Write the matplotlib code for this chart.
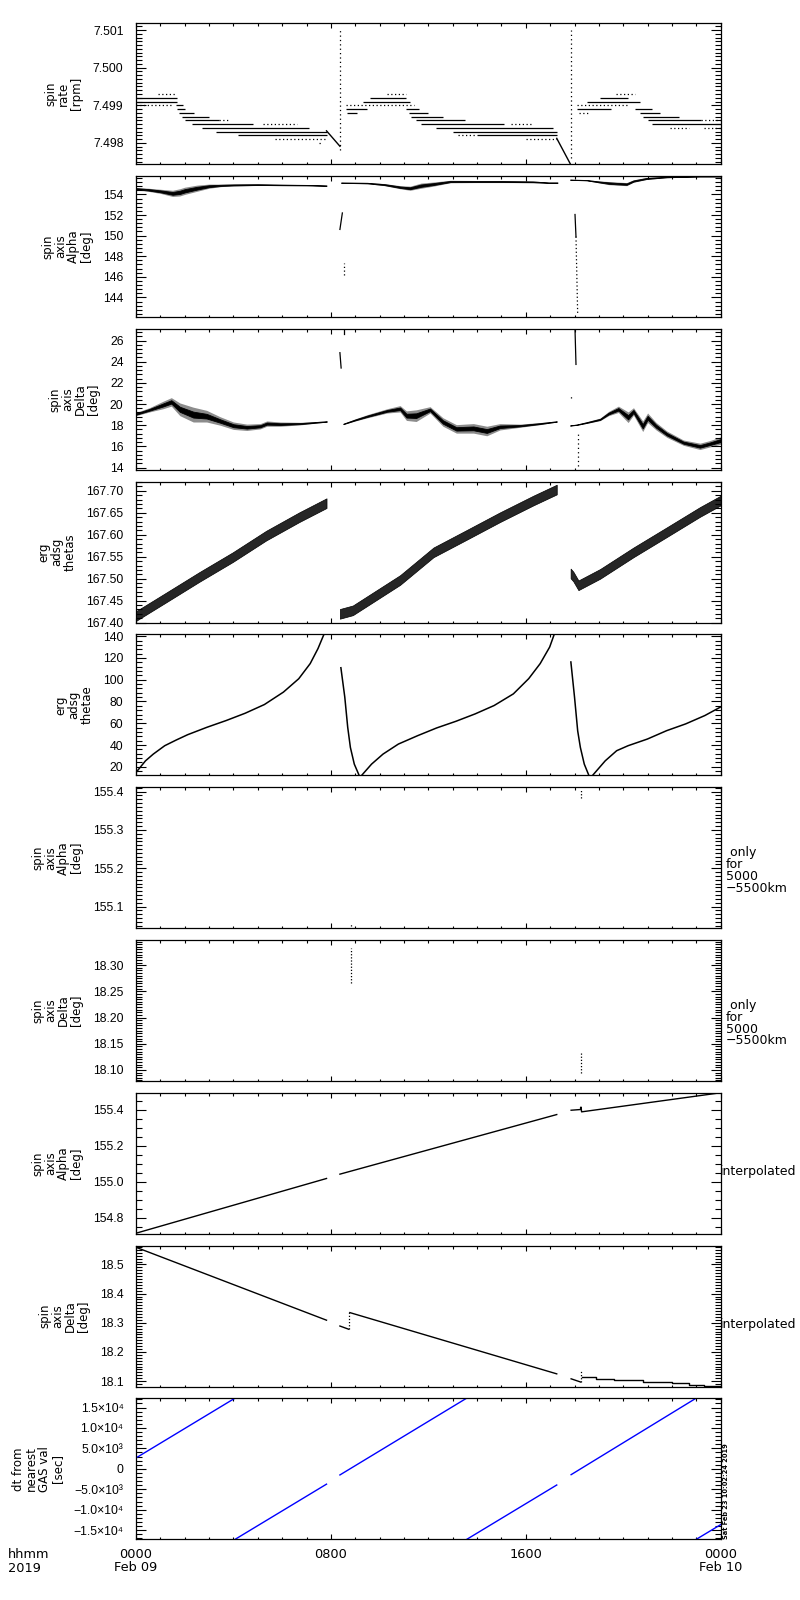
import numpy as np
import matplotlib.pyplot as plt

plt.rcParams['font.family'] = ['DejaVu Sans']
plt.rcParams['font.size'] = 8.5

# time axis: hours since 2019-02-09 00:00
xticks_major = [0, 8, 16, 24]
xtick_labels = ['0000\nFeb 09', '0800', '1600', '0000\nFeb 10']

# ---------- panel 1: spin rate [rpm] (quantised levels)
rate_solid_t0 = [0.0, 0.0, 1.65, 1.7, 1.75, 1.9, 2.0, 2.3, 2.7, 3.3, 4.2,
                 8.6, 8.65, 9.33, 9.6, 11.1, 11.2, 11.3, 11.5, 11.7, 12.3, 13.0, 14.0,
                 18.1, 18.5, 19.05, 20.5, 20.7, 20.8, 21.0, 21.2]
rate_solid_t1 = [1.67, 1.67, 1.93, 2.0, 2.4, 3.0, 3.4, 4.8, 7.1, 7.82, 7.82,
                 9.5, 9.06, 11.25, 11.1, 11.6, 12.0, 12.6, 13.5, 15.1, 17.1, 17.27, 17.27,
                 19.5, 20.7, 20.2, 21.2, 21.5, 22.3, 23.2, 24.0]
rate_solid_v = [7.4992, 7.4991, 7.4990, 7.4989, 7.4988, 7.4987, 7.4986, 7.4985, 7.4984, 7.4983, 7.4982,
                7.4989, 7.4988, 7.4991, 7.4992, 7.4989, 7.4988, 7.4987, 7.4986, 7.4985, 7.4984, 7.4983, 7.4982,
                7.4989, 7.4991, 7.4992, 7.4989, 7.4988, 7.4987, 7.4986, 7.4985]
rate_dot_t0 = [0.9, 0.0, 3.4, 5.2, 5.7, 7.5, 10.29, 8.6, 15.4, 16.0, 13.2, 18.1, 18.2, 19.7, 21.9, 23.2, 23.3]
rate_dot_t1 = [1.6, 1.5, 3.8, 6.6, 7.82, 7.6, 11.1, 11.4, 16.3, 17.27, 13.9, 20.2, 18.6, 20.5, 22.7, 24.0, 24.0]
rate_dot_v = [7.4993, 7.4990, 7.4986, 7.4985, 7.4981, 7.4980, 7.4993, 7.4990, 7.4985, 7.4981, 7.4982,
              7.4990, 7.4988, 7.4993, 7.4984, 7.4986, 7.4984]
rate_ramp1_t = [7.82, 8.37]
rate_ramp1_v = [7.49832, 7.49791]
rate_ramp2_t = [17.27, 17.82]
rate_ramp2_v = [7.49812, 7.49745]
rate_spike_t = [8.37, 17.86]
rate_spike_lo = [7.4978, 7.4976]
rate_spike_hi = [7.5010, 7.5010]

# ---------- panel 2: spin axis Alpha [deg] (centre and half-width of scatter)
alpha_t = [[0, 0.5, 1.0, 1.5, 1.8, 2.0, 2.5, 3.0, 3.5, 4.0, 5.0, 6.0, 7.0, 7.82],
           [8.42, 9.5, 10.2, 10.84, 11.25, 11.7, 12.2, 12.9, 14.0, 15.0, 16.3, 16.93, 17.3],
           [17.82, 18.5, 19.05, 19.4, 19.73, 20.14, 20.42, 20.96, 21.79, 23.15, 24.0]]
alpha_c = [[154.55, 154.45, 154.3, 154.1, 154.2, 154.35, 154.6, 154.8, 154.88, 154.92, 154.95, 154.92, 154.9, 154.85],
           [155.14, 155.1, 154.95, 154.7, 154.6, 154.85, 155.0, 155.25, 155.25, 155.25, 155.22, 155.14, 155.14],
           [155.43, 155.38, 155.2, 155.1, 155.05, 155.0, 155.3, 155.55, 155.69, 155.76, 155.76]]
alpha_w = [[0.12, 0.15, 0.2, 0.3, 0.35, 0.35, 0.3, 0.2, 0.12, 0.1, 0.08, 0.06, 0.05, 0.04],
           [0.04, 0.06, 0.1, 0.15, 0.2, 0.25, 0.2, 0.12, 0.1, 0.1, 0.08, 0.05, 0.05],
           [0.03, 0.04, 0.1, 0.15, 0.15, 0.15, 0.12, 0.1, 0.06, 0.05, 0.05]]
alpha_glitch_t = [[8.47, 8.37], [18.02, 18.06]]
alpha_glitch_v = [[152.2, 150.6], [152.05, 149.9]]
alpha_dots_t = [[8.55, 8.55], [18.06, 18.13]]
alpha_dots_v = [[146.2, 147.3], [149.9, 142.3]]

# ---------- panel 3: spin axis Delta [deg]
delta_t = [[0, 0.55, 1.1, 1.45, 1.8, 2.35, 2.9, 3.45, 4.0, 4.55, 5.1, 5.37, 5.92, 6.74, 7.83],
           [8.51, 9.0, 9.5, 10.3, 10.84, 11.1, 11.5, 12.07, 12.6, 13.15, 13.85, 14.4, 14.94, 15.76, 16.58, 17.27],
           [17.82, 18.1, 18.5, 19.05, 19.4, 19.8, 20.2, 20.42, 20.8, 21.0, 21.35, 21.79, 22.47, 23.15, 23.56, 24.0]]
delta_c = [[19.05, 19.45, 19.9, 20.2, 19.5, 19.0, 18.85, 18.4, 17.95, 17.8, 17.9, 18.15, 18.1, 18.15, 18.35],
           [18.12, 18.5, 18.85, 19.35, 19.55, 18.9, 18.9, 19.45, 18.3, 17.65, 17.7, 17.45, 17.85, 17.95, 18.15, 18.35],
           [17.97, 18.05, 18.25, 18.55, 19.1, 19.5, 18.75, 19.3, 17.9, 18.7, 17.9, 17.15, 16.35, 16.0, 16.25, 16.55]]
delta_w = [[0.15, 0.2, 0.35, 0.4, 0.6, 0.7, 0.55, 0.4, 0.35, 0.3, 0.25, 0.25, 0.2, 0.12, 0.05],
           [0.05, 0.1, 0.15, 0.2, 0.3, 0.45, 0.55, 0.3, 0.4, 0.4, 0.45, 0.45, 0.3, 0.15, 0.1, 0.05],
           [0.03, 0.05, 0.08, 0.12, 0.2, 0.3, 0.5, 0.35, 0.5, 0.45, 0.35, 0.3, 0.25, 0.3, 0.3, 0.35]]
delta_glitch_t = [[8.37, 8.42], [8.55, 8.55], [18.02, 18.06]]
delta_glitch_v = [[24.85, 23.4], [26.6, 26.95], [27.05, 23.74]]
delta_dots_t = [[18.13, 18.13], [17.84, 17.84]]
delta_dots_v = [[14.1, 17.3], [20.6, 20.8]]

# ---------- panel 4: erg adsg thetas
thetas_t = [[0, 1.23, 2.6, 3.97, 5.34, 6.7, 7.82],
            [8.37, 8.9, 10.84, 12.21, 13.58, 14.94, 16.31, 17.27],
            [17.84, 17.95, 18.16, 19.05, 20.42, 21.79, 23.15, 24.0]]
thetas_c = [[167.415, 167.457, 167.504, 167.549, 167.598, 167.64, 167.672],
            [167.42, 167.428, 167.497, 167.56, 167.60, 167.64, 167.678, 167.703],
            [167.512, 167.505, 167.485, 167.511, 167.56, 167.606, 167.652, 167.678]]
thetas_w = 0.011

# ---------- panel 5: erg adsg thetae
thetae_t = [[0, 0.39, 0.71, 1.18, 1.65, 2.12, 2.91, 3.7, 4.48, 5.27, 6.05, 6.68, 7.15, 7.47, 7.7, 7.8],
            [8.41, 8.57, 8.69, 8.8, 8.96, 9.15],
            [9.28, 9.67, 10.14, 10.77, 11.56, 12.34, 13.13, 13.92, 14.7, 15.49, 16.12, 16.59, 16.98, 17.22],
            [17.85, 18.0, 18.13, 18.24, 18.4, 18.58],
            [18.76, 19.26, 19.73, 20.2, 20.99, 21.78, 22.56, 23.35, 24.0]]
thetae_v = [[14.8, 25.5, 31.7, 39.4, 44.6, 49.5, 56.3, 62.5, 69.2, 77.2, 88.6, 100.9, 114.8, 128.6, 140.9, 145],
            [111, 84, 56.3, 37.8, 22.5, 12.6],
            [12.6, 22.5, 31.7, 40.9, 48.6, 55.7, 61.8, 68.6, 76.3, 87, 101, 114.8, 130, 145],
            [116.3, 84, 53, 37.8, 22.5, 12.6],
            [12.6, 25.5, 34.8, 39.4, 45.5, 53.2, 59.4, 67.1, 75.0]]

# ---------- panels 6/7: only for 5000-5500 km
only_t = [8.81, 18.27]
only_alpha_lo = [155.050, 155.383]
only_alpha_hi = [155.058, 155.406]
only_delta_lo = [18.266, 18.094]
only_delta_hi = [18.333, 18.135]

# ---------- panel 8: interpolated Alpha
ialpha_t = [[0, 7.82], [8.37, 17.27], [17.86, 18.25, 18.25, 18.27, 18.29, 24.0]]
ialpha_v = [[154.713, 155.017], [155.041, 155.372],
            [155.396, 155.40, 155.412, 155.413, 155.387, 155.493]]

# ---------- panel 9: interpolated Delta
idelta_t = [[0, 7.82], [8.37, 8.73], [8.78, 17.27], [17.86, 18.25]]
idelta_v = [[18.559, 18.309], [18.289, 18.278], [18.335, 18.125], [18.108, 18.097]]
idelta_step_t = [18.3, 18.9, 19.6, 20.8, 22.0, 22.7, 23.3, 24.0]
idelta_step_v = [18.114, 18.108, 18.105, 18.098, 18.093, 18.087, 18.084, 18.084]
idelta_jump_t = [8.76, 18.27]
idelta_jump_lo = [18.278, 18.097]
idelta_jump_hi = [18.34, 18.137]

# ---------- panel 10: dt from nearest GAS value [sec]
dt_t = [[0, 4.06], [4.06, 7.82], [8.37, 13.57], [13.57, 17.27], [17.86, 22.99], [22.99, 24.0]]
dt_v = [[2660, 17280], [-17280, -3750], [-1500, 17280], [-17280, -3960], [-1430, 17280], [-17280, -13650]]

# ---------- axis setup per panel
ylabels = ['spin\nrate\n[rpm]', 'spin\naxis\nAlpha\n[deg]', 'spin\naxis\nDelta\n[deg]',
           'erg\nadsg\nthetas', 'erg\nadsg\nthetae', 'spin\naxis\nAlpha\n[deg]',
           'spin\naxis\nDelta\n[deg]', 'spin\naxis\nAlpha\n[deg]', 'spin\naxis\nDelta\n[deg]',
           'dt from\nnearest\nGAS val\n[sec]']
ylims = [(7.49743, 7.50118), (142.09, 155.78), (13.78, 27.1), (167.40, 167.721), (12.1, 141.6),
         (155.0436, 155.4115), (18.079, 18.348), (154.71, 155.493), (18.0815, 18.565), (-17250, 17250)]
ymajor = [0.001, 2, 2, 0.05, 20, 0.1, 0.05, 0.2, 0.1, 5000]
yminor_div = [10, 5, 5, 5, 5, 10, 10, 4, 10, 5]
yfmt = ['%.3f', '%d', '%d', '%.2f', '%d', '%.1f', '%.2f', '%.1f', '%.1f', None]
right_notes = [None, None, None, None, None, ' only\nfor\n5000\n\u22125500km', ' only\nfor\n5000\n\u22125500km',
               'interpolated', 'interpolated', None]


def dt_label(v):
    if v == 0:
        return '0'
    sign = '\u2212' if v < 0 else ''
    a = abs(v)
    e = int(np.floor(np.log10(a)))
    sup = {3: '\u00b3', 4: '\u2074'}[e]
    return '%s%.1f\u00d710%s' % (sign, a / 10 ** e, sup)


fig = plt.figure(figsize=(8, 16), dpi=100)
axes = []
for i in range(10):
    top = 23.3 + i * 152.78
    ax = fig.add_axes([136 / 800, 1 - (top + 141) / 1600, 584.7 / 800, 141 / 1600])
    axes.append(ax)
    lo, hi = ylims[i]
    ax.set_xlim(0, 24)
    ax.set_ylim(lo, hi)
    ax.set_xticks(xticks_major)
    ax.set_xticks(np.arange(0, 25, 1), minor=True)
    step = ymajor[i]
    ticks = np.arange(np.ceil(lo / step - 1e-6) * step, hi + 1e-9, step)
    if yfmt[i] is None:
        labels = [dt_label(round(t)) for t in ticks]
    else:
        labels = [yfmt[i] % t for t in ticks]
    ax.set_yticks(ticks, labels, fontfamily=['Liberation Sans', 'DejaVu Sans'], fontsize=8.8)
    mstep = step / yminor_div[i]
    ax.set_yticks(np.arange(np.ceil(lo / mstep - 1e-6) * mstep, hi + 1e-9, mstep), minor=True)
    ax.tick_params(which='both', direction='in', top=True, right=True, width=0.8)
    ax.tick_params(axis='x', which='major', length=3.3, pad=6, labelsize=9.3)
    ax.tick_params(axis='x', which='minor', length=1.8)
    ax.tick_params(axis='y', which='major', length=7.2, pad=9)
    ax.tick_params(axis='y', which='minor', length=4.3)
    for s in ax.spines.values():
        s.set_linewidth(0.9)
    ax.set_ylabel(ylabels[i], linespacing=1.0, labelpad=7)
    if i < 9:
        ax.tick_params(axis='x', labelbottom=False)
    else:
        ax.set_xticklabels(xtick_labels, linespacing=1.05)
    if right_notes[i]:
        if i in (5, 6):
            ax.text(1.009, 0.41, right_notes[i], transform=ax.transAxes, fontsize=9,
                    ha='left', va='center', linespacing=0.88)
        else:
            ax.text(0.998, 0.44, right_notes[i], transform=ax.transAxes, fontsize=9,
                    ha='left', va='center')

k = 'black'
# panel 1
ax = axes[0]
ax.hlines(rate_solid_v, rate_solid_t0, rate_solid_t1, color=k, lw=0.9)
ax.hlines(rate_dot_v, rate_dot_t0, rate_dot_t1, color=k, lw=0.9, linestyles=(0, (1, 2)))
ax.plot(rate_ramp1_t, rate_ramp1_v, color=k, lw=1.0)
ax.plot(rate_ramp2_t, rate_ramp2_v, color=k, lw=1.0)
ax.vlines(rate_spike_t, rate_spike_lo, rate_spike_hi, color=k, lw=0.9, linestyles=(0, (1, 2.5)))


def band(ax, t, c, w, inner=0.45):
    t = np.array(t)
    c = np.array(c)
    w = np.array(w)
    ax.fill_between(t, c - w, c + w, color='0.55', lw=0)
    ax.fill_between(t, c - w * inner, c + w * inner, color=k, lw=0.6)


# panel 2
ax = axes[1]
for t, c, w in zip(alpha_t, alpha_c, alpha_w):
    band(ax, t, c, w)
for t, v in zip(alpha_glitch_t, alpha_glitch_v):
    ax.plot(t, v, color=k, lw=0.9)
for t, v in zip(alpha_dots_t, alpha_dots_v):
    ax.plot(t, v, color=k, lw=0.9, ls=(0, (1, 2)))

# panel 3
ax = axes[2]
for t, c, w in zip(delta_t, delta_c, delta_w):
    band(ax, t, c, w, inner=0.4)
for t, v in zip(delta_glitch_t, delta_glitch_v):
    ax.plot(t, v, color=k, lw=0.9)
for t, v in zip(delta_dots_t, delta_dots_v):
    ax.plot(t, v, color=k, lw=0.9, ls=(0, (1, 2.5)))

# panel 4
ax = axes[3]
for t, c in zip(thetas_t, thetas_c):
    c = np.array(c)
    ax.fill_between(t, c - thetas_w, c + thetas_w, color='0.15', lw=0.5, ec=k)

# panel 5
ax = axes[4]
for t, v in zip(thetae_t, thetae_v):
    ax.plot(t, v, color=k, lw=1.1)

# panels 6, 7
axes[5].vlines(only_t, only_alpha_lo, only_alpha_hi, color=k, lw=0.9, linestyles=(0, (1, 1.5)))
axes[6].vlines(only_t, only_delta_lo, only_delta_hi, color=k, lw=0.9, linestyles=(0, (1, 1.5)))

# panel 8
for t, v in zip(ialpha_t, ialpha_v):
    axes[7].plot(t, v, color=k, lw=1.0)

# panel 9
ax = axes[8]
for t, v in zip(idelta_t, idelta_v):
    ax.plot(t, v, color=k, lw=1.0)
ax.plot(idelta_step_t, idelta_step_v, color=k, lw=1.0, drawstyle='steps-post')
ax.vlines(idelta_jump_t, idelta_jump_lo, idelta_jump_hi, color=k, lw=0.9, linestyles=(0, (1, 1.5)))

# panel 10
ax = axes[9]
for t, v in zip(dt_t, dt_v):
    ax.plot(t, v, color='#0000ff', lw=1.0)
ax.text(1.004, 0.0, 'Sat Feb 23 10:02:24 2019', transform=ax.transAxes, rotation=90,
        fontsize=4.8, fontweight='bold', ha='left', va='bottom')

fig.text(8 / 800, 1 - 1548 / 1600, 'hhmm\n2019', ha='left', va='top', linespacing=1.05, fontsize=9.3)

fig.savefig('out.png', dpi=100)
